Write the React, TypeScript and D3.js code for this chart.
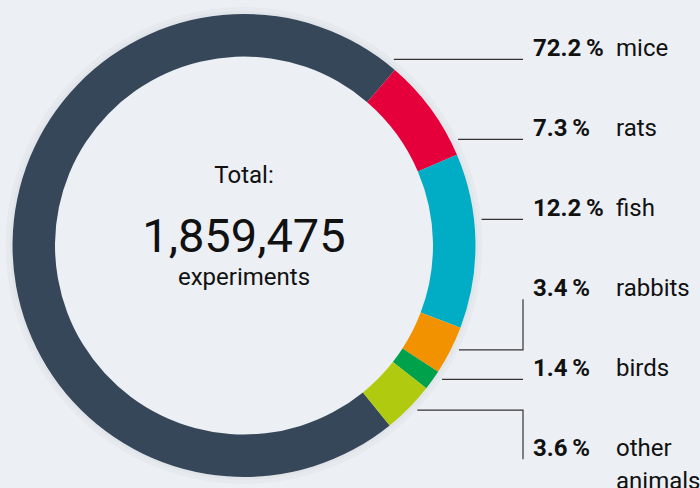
import React from "react";
import * as d3 from "d3";

const categories = ["mice", "rats", "fish", "rabbits", "birds", "other animals"];
const shares = [72.2, 7.3, 12.2, 3.4, 1.4, 3.6];
const colors = ["#36475a", "#e5003c", "#00adc4", "#f39200", "#00a14b", "#b0cb0f"];
const totalLabel = "Total:";
const totalValue = 1859475;
const totalUnit = "experiments";

const W = 700;
const H = 488;
const cx = 244;
const cy = 245.5;
const R = 231.5;
const r0 = 189;
const leaderR = 239;
const lineX = 523;
const pctX = 533;
const nameX = 616;
const firstBaseline = 56;
const labelStep = 80;
const fontFamily = "Roboto, 'Noto Sans', sans-serif";

export default function App() {
  const pie = d3
    .pie<number>()
    .sort(null)
    .value((d) => d)
    .startAngle((-219 * Math.PI) / 180)
    .endAngle((-219 * Math.PI) / 180 + 2 * Math.PI);
  const arcs = pie(shares);
  const arc = d3.arc<d3.PieArcDatum<number>>().innerRadius(r0).outerRadius(R);

  const fmt = d3.format(",");
  const yScale = d3
    .scaleLinear()
    .domain([0, 1])
    .range([firstBaseline, firstBaseline + labelStep]);

  const leaders = arcs.map((a, i) => {
    const base = yScale(i);
    const ly = base + 3.3;
    const dy = ly - cy;
    const theta = Math.acos(Math.max(-1, Math.min(1, -dy / leaderR)));
    const inside = theta >= a.startAngle && theta <= a.endAngle;
    if (inside) {
      const x0 = cx + leaderR * Math.sin(theta);
      return `M${x0},${ly}H${lineX}`;
    }
    const mid = (a.startAngle + a.endAngle) / 2 - (1 * Math.PI) / 180;
    const ax = cx + leaderR * Math.sin(mid);
    const ay = cy - leaderR * Math.cos(mid);
    return `M${ax},${ay}H${lineX}V${ly}`;
  });

  return (
    <svg
      width={W}
      height={H}
      style={{ position: "absolute", left: 0, top: 0, display: "block" }}
      fontFamily={fontFamily}
    >
      <rect x={0} y={0} width={W} height={H} fill="#eceff4" />
      <circle cx={cx} cy={cy} r={R + 3.5} fill="none" stroke="#000" strokeOpacity={0.025} strokeWidth={7} />
      <circle cx={cx} cy={cy} r={R + 1.5} fill="none" stroke="#000" strokeOpacity={0.02} strokeWidth={3} />
      <g transform={`translate(${cx},${cy})`}>
        {arcs.map((a, i) => (
          <path key={categories[i]} d={arc(a) || ""} fill={colors[i]} />
        ))}
      </g>
      <g fill="#111" textAnchor="middle">
        <text x={cx} y={183.3} fontSize={24}>
          {totalLabel}
        </text>
        <text x={cx} y={251.7} fontSize={47}>
          {fmt(totalValue)}
        </text>
        <text x={cx} y={285} fontSize={24}>
          {totalUnit}
        </text>
      </g>
      <g fill="none" stroke="#333" strokeWidth={1.2}>
        {leaders.map((d, i) => (
          <path key={i} d={d} />
        ))}
      </g>
      <g fill="#111" fontSize={24}>
        {categories.map((c, i) => {
          const y = yScale(i);
          const words = c.split(" ");
          return (
            <g key={c}>
              <text x={pctX} y={y} fontWeight="bold">
                <tspan>{shares[i].toFixed(1)}</tspan>
                <tspan dx={4.8}>%</tspan>
              </text>
              <text x={nameX} y={y}>
                {words.map((w, j) => (
                  <tspan key={j} x={nameX} dy={j === 0 ? 0 : 33}>
                    {w}
                  </tspan>
                ))}
              </text>
            </g>
          );
        })}
      </g>
    </svg>
  );
}
